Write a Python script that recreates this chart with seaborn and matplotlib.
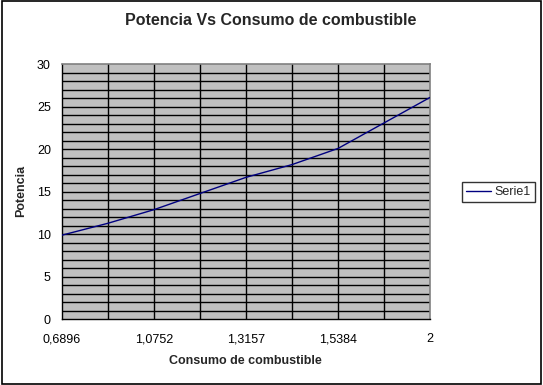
import matplotlib
matplotlib.use("Agg")
import matplotlib.pyplot as plt
import seaborn as sns
import pandas as pd
from matplotlib.patches import Rectangle

# Data (category axis, 9 categories; only every other label is shown)
consumo = ["0,6896", "0,8824", "1,0752", "1,1955", "1,3157",
           "1,4271", "1,5384", "1,7692", "2"]
potencia = [9.9, 11.3, 12.9, 14.8, 16.7, 18.2, 20.1, 23.1, 26.1]
serie_name = "Serie1"

df = pd.DataFrame({"idx": range(len(consumo)), "Potencia": potencia,
                   "serie": serie_name})

sns.set_style("white")
plt.rcParams["font.family"] = ["Liberation Sans", "DejaVu Sans"]

W, H = 543, 385
fig = plt.figure(figsize=(W / 100, H / 100), dpi=100)
L, R, T, B = 62, 430, 64.3, 319.3
ax = fig.add_axes([L / W, 1 - B / H, (R - L) / W, (B - T) / H])
ax.set_facecolor("#C0C0C0")

# grid lines
for v in range(1, 30):
    ax.axhline(v, color="black", lw=1.0, zorder=1)
for i in range(1, len(consumo) - 1):
    ax.axvline(i, color="black", lw=1.0, zorder=1)

sns.lineplot(data=df, x="idx", y="Potencia", hue="serie",
             palette=["#000080"], lw=1.0, ax=ax, zorder=3, legend=True)

ax.set_xlim(0, len(consumo) - 1)
ax.set_ylim(0, 30)
ax.set_xticks(range(0, len(consumo), 2))
ax.set_xticklabels(consumo[::2])
ax.set_yticks(range(0, 31, 5))
ax.tick_params(axis="both", direction="out", length=5, width=1,
               color="black", labelsize=9, pad=3, labelcolor="black")
ax.tick_params(axis="x", pad=5)
for s in ["top", "right"]:
    ax.spines[s].set_color("#808080")
    ax.spines[s].set_linewidth(1.2)
for s in ["left", "bottom"]:
    ax.spines[s].set_color("black")
    ax.spines[s].set_linewidth(1.0)

ax.set_xlabel("")
ax.set_ylabel("")
fig.text(245.5 / W, 1 - 361.5 / H, "Consumo de combustible", ha="center",
         va="center", fontsize=9, fontweight="bold")
fig.text(21.5 / W, 1 - 191 / H, "Potencia", ha="center", va="center",
         rotation=90, fontsize=9, fontweight="bold")
fig.text(271 / W, 1 - 20.5 / H, "Potencia Vs Consumo de combustible",
         ha="center", va="center", fontsize=11.5, fontweight="bold")

leg = ax.legend(loc="center left", bbox_to_anchor=(462 / W, 1 - 192 / H),
                bbox_transform=fig.transFigure, frameon=True, fancybox=False,
                fontsize=9, handlelength=2.0, handletextpad=0.3,
                borderpad=0.3, borderaxespad=0)
leg.get_frame().set_edgecolor("black")
leg.get_frame().set_linewidth(1.0)
leg.get_frame().set_facecolor("white")

# chart border
fig.patches.append(Rectangle((1.5 / W, 1 - 383.5 / H), 539.5 / W, 382.5 / H,
                             transform=fig.transFigure, fill=False,
                             edgecolor="black", lw=1.2))

fig.savefig("out.png", dpi=100)
